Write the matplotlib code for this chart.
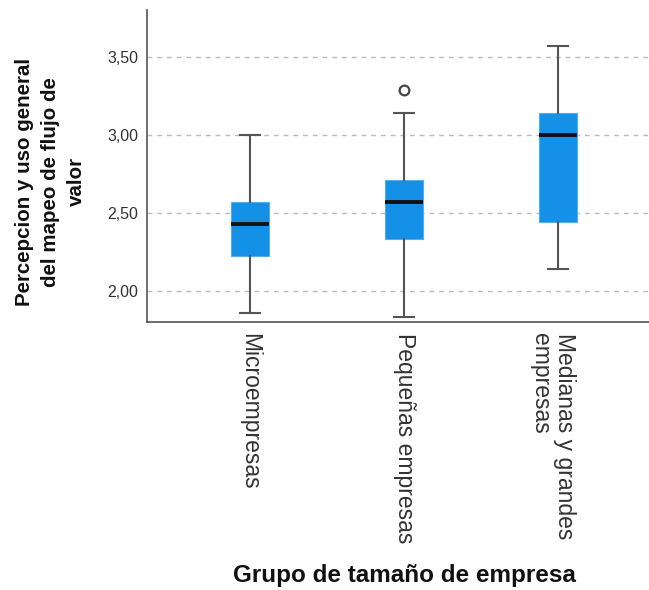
import matplotlib
matplotlib.use("Agg")
import matplotlib.pyplot as plt
import matplotlib.transforms as mtransforms

categories = ["Microempresas", "Pequeñas empresas", "Medianas y grandes\nempresas"]
whislo = [1.86, 1.83, 2.14]
q1 = [2.22, 2.33, 2.44]
med = [2.43, 2.57, 3.00]
q3 = [2.57, 2.71, 3.14]
whishi = [3.00, 3.14, 3.57]
fliers = [[], [3.29], []]
yticks = [2.00, 2.50, 3.00, 3.50]
ytick_labels = ["2,00", "2,50", "3,00", "3,50"]

plt.rcParams['font.family'] = ['Liberation Sans', 'DejaVu Sans']

W, H = 649, 590
fig = plt.figure(figsize=(W / 100, H / 100), dpi=100)
ax = fig.add_axes([147 / W, (H - 322) / H, (W - 147) / W, (322 - 10) / H])

stats = []
for i in range(len(categories)):
    stats.append(dict(whislo=whislo[i], q1=q1[i], med=med[i], q3=q3[i],
                      whishi=whishi[i], fliers=fliers[i], label=categories[i]))

ax.bxp(stats, positions=[1, 2, 3], widths=0.247, capwidths=0.125,
       patch_artist=True, showfliers=True,
       boxprops=dict(facecolor='#1490e6', edgecolor='#52aef0', linewidth=0.8),
       medianprops=dict(color='#111111', linewidth=2.8),
       whiskerprops=dict(color='#555555', linewidth=1.5),
       capprops=dict(color='#555555', linewidth=1.5),
       flierprops=dict(marker='o', markerfacecolor='white', markeredgecolor='#444444',
                       markersize=7, markeredgewidth=1.6),
       zorder=3)

ax.set_xlim(0.331, 3.59)
ax.set_ylim(1.80, 3.80)
ax.set_yticks(yticks)
ax.set_yticklabels(ytick_labels, fontsize=11.5, color='#333333')
ax.set_xticks([1, 2, 3])
ax.set_xticklabels(categories, rotation=270, fontsize=16.5, color='#333333',
                   ha='center', va='top', multialignment='left', linespacing=1.05)
ax.tick_params(axis='both', length=0)
ax.tick_params(axis='x', pad=8)
ax.tick_params(axis='y', pad=6.5)

lbl3 = ax.get_xticklabels()[2]
lbl3.set_transform(lbl3.get_transform() +
                   mtransforms.ScaledTranslation(-6 / 100, 0, fig.dpi_scale_trans))

ax.grid(axis='y', linestyle=(0, (3.5, 3.5)), color='#bbbbbb', linewidth=1.0, zorder=0)
ax.set_axisbelow(True)

for s in ['top', 'right']:
    ax.spines[s].set_visible(False)
for s in ['left', 'bottom']:
    ax.spines[s].set_color('#555555')
    ax.spines[s].set_linewidth(1.2)

ax.set_ylabel("Percepcion y uso general\ndel mapeo de flujo de\nvalor", fontsize=14.75,
              fontweight='bold', color='#111111', linespacing=1.45)
ax.yaxis.set_label_coords((86 - 147) / 502, (322 - 182) / 312)
ax.set_xlabel("Grupo de tamaño de empresa", fontsize=17.5, fontweight='bold', color='#111111')
ax.xaxis.set_label_coords((404 - 147) / 502, -(564 - 322) / 312)

fig.savefig("out.png", dpi=100)
